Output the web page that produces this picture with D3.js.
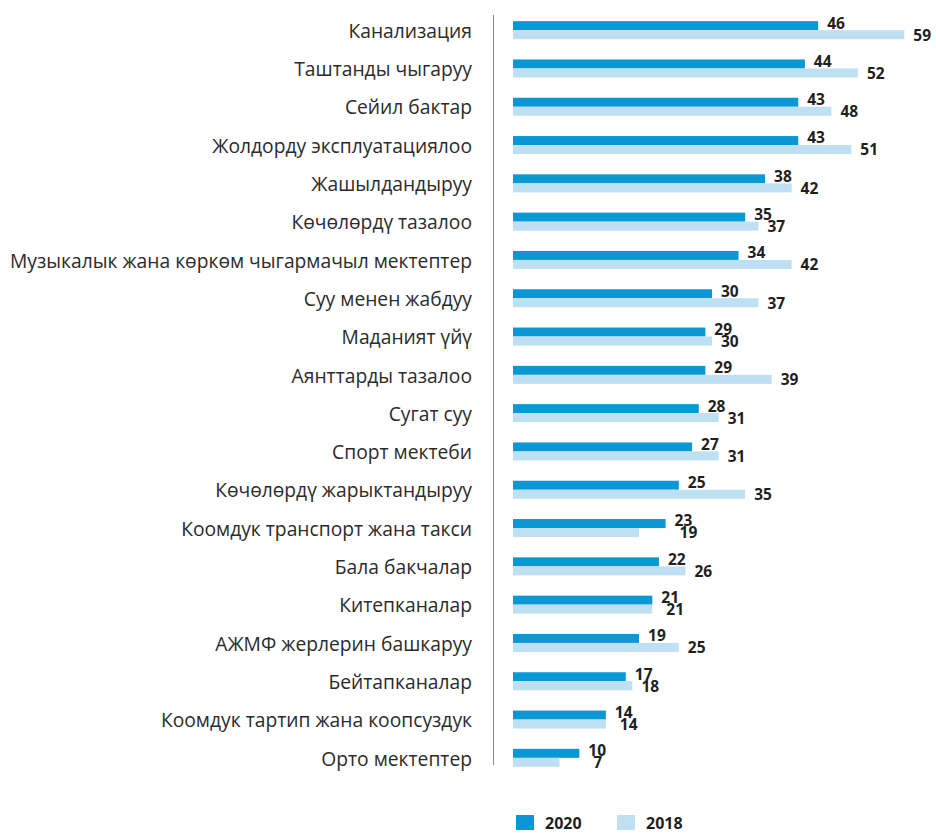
<!DOCTYPE html>
<html>
<head>
<meta charset="utf-8">
<script src="https://cdn.jsdelivr.net/npm/d3@7"></script>
<style>
  html, body { margin: 0; padding: 0; background: #fff; }
  svg { display: block; }
</style>
</head>
<body>
<svg id="chart" width="936" height="834"></svg>
<script>
const categories = [
  "Канализация",
  "Таштанды чыгаруу",
  "Сейил бактар",
  "Жолдорду эксплуатациялоо",
  "Жашылдандыруу",
  "Көчөлөрдү тазалоо",
  "Музыкалык жана көркөм чыгармачыл мектептер",
  "Суу менен жабдуу",
  "Маданият үйү",
  "Аянттарды тазалоо",
  "Сугат суу",
  "Спорт мектеби",
  "Көчөлөрдү жарыктандыруу",
  "Коомдук транспорт жана такси",
  "Бала бакчалар",
  "Китепканалар",
  "АЖМФ жерлерин башкаруу",
  "Бейтапканалар",
  "Коомдук тартип жана коопсуздук",
  "Орто мектептер"
];
const values2020 = [46, 44, 43, 43, 38, 35, 34, 30, 29, 29, 28, 27, 25, 23, 22, 21, 19, 17, 14, 10];
const values2018 = [59, 52, 48, 51, 42, 37, 42, 37, 30, 39, 31, 31, 35, 19, 26, 21, 25, 18, 14, 7];
const seriesNames = ["2020", "2018"];
const seriesColors = ["#0b97d3", "#bfe0f2"];

const svg = d3.select("#chart");
const font = "'Open Sans', 'Noto Sans', sans-serif";

const y = d3.scaleBand().domain(categories).range([11, 777]).paddingInner(0).paddingOuter(0);
const x = d3.scaleLinear().domain([0, 60]).range([513, 911]);
const barH = 9;

// axis line
svg.append("line")
  .attr("x1", 493.5).attr("x2", 493.5)
  .attr("y1", 15).attr("y2", 765)
  .attr("stroke", "#8a8a8a").attr("stroke-width", 1);

// category labels
const catG = svg.append("g");
const catLabels = catG.selectAll("text").data(categories).join("text")
  .attr("x", 472)
  .attr("y", d => y(d) + y.bandwidth() / 2 + 1)
  .attr("dy", "0.35em")
  .attr("text-anchor", "end")
  .attr("font-family", font)
  .attr("font-size", 16)
  .attr("fill", "#2b2b2b")
  .text(d => d);
// fit the longest label to the reference width
let maxW = 0;
catLabels.each(function () { maxW = Math.max(maxW, this.getComputedTextLength()); });
const fs = 16 * 462 / maxW;
catLabels.attr("font-size", fs.toFixed(2));

const rows = categories.map((c, i) => ({ c, v20: values2020[i], v18: values2018[i] }));
const rowG = svg.append("g").selectAll("g").data(rows).join("g");

const center = d => y(d.c) + y.bandwidth() / 2;

rowG.append("rect")
  .attr("x", x(0))
  .attr("y", d => center(d) - barH)
  .attr("width", d => x(d.v20) - x(0))
  .attr("height", barH)
  .attr("fill", seriesColors[0]);
rowG.append("rect")
  .attr("x", x(0))
  .attr("y", d => center(d))
  .attr("width", d => x(d.v18) - x(0))
  .attr("height", barH)
  .attr("fill", seriesColors[1]);

const valueFont = 15.5;
rowG.append("text")
  .attr("x", d => x(d.v20) + 9)
  .attr("y", d => center(d) - 7)
  .attr("dy", "0.35em")
  .attr("font-family", font)
  .attr("font-weight", "bold")
  .attr("font-size", valueFont)
  .attr("fill", "#1f1f1f")
  .text(d => d.v20);
rowG.append("text")
  .attr("x", d => Math.max(x(d.v18) + 9, x(d.v20) + 14))
  .attr("y", d => center(d) + 5)
  .attr("dy", "0.35em")
  .attr("font-family", font)
  .attr("font-weight", "bold")
  .attr("font-size", valueFont)
  .attr("fill", "#1f1f1f")
  .text(d => d.v18);

// legend
const legendX = [516, 617];
const legend = svg.append("g").selectAll("g").data(seriesNames).join("g")
  .attr("transform", (d, i) => `translate(${legendX[i]},815)`);
legend.append("rect")
  .attr("width", 18).attr("height", 15)
  .attr("fill", (d, i) => seriesColors[i]);
legend.append("text")
  .attr("x", 29).attr("y", 8)
  .attr("dy", "0.35em")
  .attr("font-family", font)
  .attr("font-weight", "bold")
  .attr("font-size", 16)
  .attr("fill", "#1f1f1f")
  .text(d => d);
</script>
</body>
</html>
